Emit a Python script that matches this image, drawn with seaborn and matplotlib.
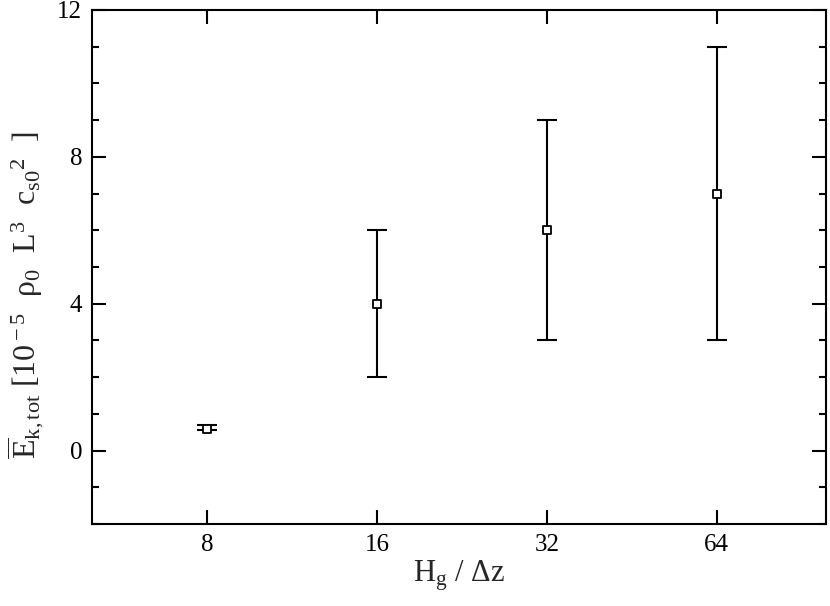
#!/usr/bin/env python3
"""Kinetic energy vs vertical resolution, with error bars."""

import matplotlib
matplotlib.use("Agg")
import matplotlib.pyplot as plt
import matplotlib.ticker as ticker
import numpy as np
import pandas as pd
import seaborn as sns

resolution = [8, 16, 32, 64]
ek_mean = [0.6, 4.0, 6.0, 7.0]
ek_low = [0.55, 2.0, 3.0, 3.0]
ek_high = [0.7, 6.0, 9.0, 11.0]

sns.set_style("ticks")
plt.rcParams["font.family"] = ["Liberation Serif", "DejaVu Serif"]
plt.rcParams["mathtext.fontset"] = "custom"
plt.rcParams["mathtext.rm"] = "Liberation Serif"
plt.rcParams["mathtext.it"] = "Liberation Serif:italic"

df = pd.DataFrame({"H": resolution, "E": ek_mean, "lo": ek_low, "hi": ek_high})

fig = plt.figure(figsize=(8.3, 6.06), dpi=100)
ax = fig.add_axes([0.1108, 0.1353, 0.8844, 0.8482])

yerr = np.array([df["E"] - df["lo"], df["hi"] - df["E"]])
ax.errorbar(df["H"], df["E"], yerr=yerr, fmt="none", ecolor="black",
            elinewidth=1.5, capsize=7, capthick=1.5, zorder=2)
sns.scatterplot(data=df, x="H", y="E", marker="s", s=26, facecolor="white",
                edgecolor="black", linewidth=1.3, zorder=3, ax=ax)

ax.set_xscale("log", base=2)
ax.set_xlim(5, 100)
ax.set_ylim(-2, 12)
ax.xaxis.set_major_locator(ticker.FixedLocator(resolution))
ax.xaxis.set_major_formatter(ticker.FixedFormatter([str(r) for r in resolution]))
ax.xaxis.set_minor_locator(ticker.NullLocator())
ax.yaxis.set_major_locator(ticker.MultipleLocator(4))
ax.yaxis.set_minor_locator(ticker.MultipleLocator(1))

ax.tick_params(which="both", direction="in", top=True, right=True,
               width=1.5, labelsize=18, colors="black", pad=7)
ax.tick_params(which="major", length=10)
ax.tick_params(which="minor", length=5)
for s in ax.spines.values():
    s.set_linewidth(1.5)
    s.set_color("black")

ax.set_xlabel(r"H$_{\rm g}$ / $\Delta$z", fontsize=22, labelpad=2)
ax.set_ylabel(r"$\overline{\rm E}_{\rm k,tot}$ [10$^{\rm -5}$  ρ$_{\rm 0}$  L$^{\rm 3}$  c$_{\rm s0}$$^{\rm 2}$  ]",
              fontsize=23)
ax.yaxis.set_label_coords(-0.062, 0.445)

fig.savefig("out.png", dpi=100)
